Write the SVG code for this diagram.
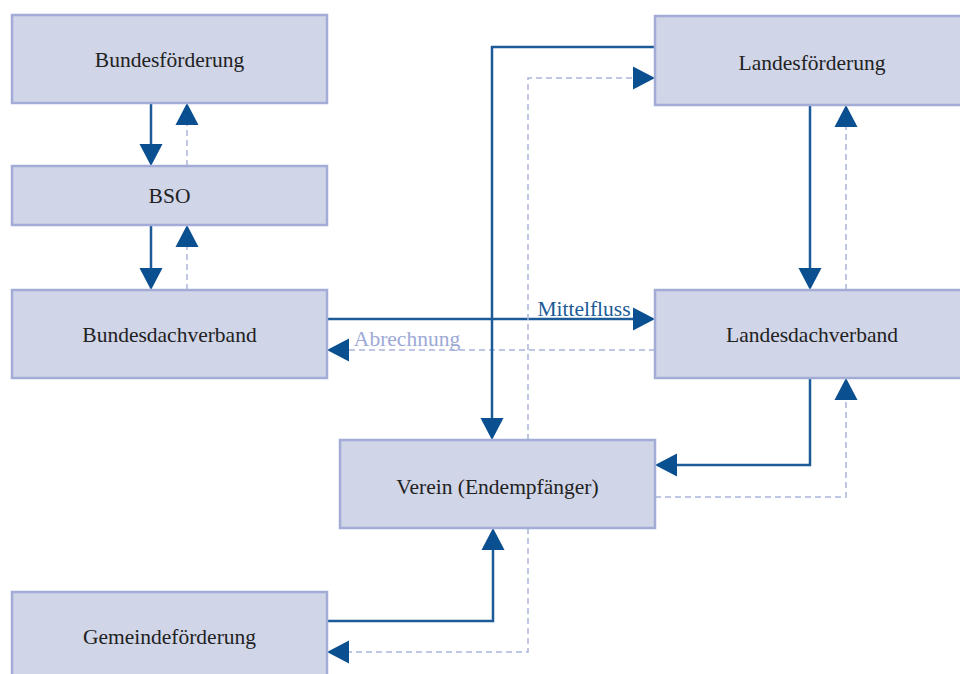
<svg xmlns="http://www.w3.org/2000/svg" width="960" height="674" viewBox="0 0 960 674">
<style>
.box{fill:#d0d5e8;stroke:#a3acd6;stroke-width:2.5}
.lbl{font-family:"Liberation Serif","Times New Roman",serif;font-size:21.5px;fill:#222;text-anchor:middle}
.solid{fill:none;stroke:#1c5b98;stroke-width:2.5}
.dash{fill:none;stroke:#aab5db;stroke-width:1.5;stroke-dasharray:6 4}
.ah{fill:#0a4f8f}
</style>
<rect width="960" height="674" fill="#fff"/>
<g id="connectors">
<!-- Bundesförderung <-> BSO -->
<path class="solid" d="M151 103V146"/>
<polygon class="ah" points="139.5,144 162.5,144 151,166"/>
<path class="dash" d="M187 166V124"/>
<polygon class="ah" points="175.5,125 198.5,125 187,103"/>
<!-- BSO <-> Bundesdachverband -->
<path class="solid" d="M151 225V270"/>
<polygon class="ah" points="139.5,268 162.5,268 151,290"/>
<path class="dash" d="M187 290V246"/>
<polygon class="ah" points="175.5,247 198.5,247 187,225"/>
<!-- Landesförderung <-> Landesdachverband -->
<path class="solid" d="M810 105V270"/>
<polygon class="ah" points="798.5,268 821.5,268 810,290"/>
<path class="dash" d="M846 290V126"/>
<polygon class="ah" points="834.5,127 857.5,127 846,105"/>
<!-- Mittelfluss / Abrechnung -->
<path class="solid" d="M327 319H636"/>
<polygon class="ah" points="633,307.5 633,330.5 655,319"/>
<text x="584" y="316" class="lbl" style="fill:#1c5b98">Mittelfluss</text>
<path class="dash" d="M655 350H346"/>
<polygon class="ah" points="349,338.5 349,361.5 327,350"/>
<text x="407" y="346" class="lbl" style="fill:#9ca9d6">Abrechnung</text>
<!-- Landesförderung <-> Verein -->
<path class="solid" d="M655 47H492V420"/>
<polygon class="ah" points="480.5,418 503.5,418 492,440"/>
<path class="dash" d="M528 440V78H636"/>
<polygon class="ah" points="633,66.5 633,89.5 655,78"/>
<!-- Landesdachverband <-> Verein -->
<path class="solid" d="M810 378V465H674"/>
<polygon class="ah" points="677,453.5 677,476.5 655,465"/>
<path class="dash" d="M655 497H846V399"/>
<polygon class="ah" points="834.5,400 857.5,400 846,378"/>
<!-- Gemeindeförderung <-> Verein -->
<path class="solid" d="M327 621H493V548"/>
<polygon class="ah" points="481.5,550 504.5,550 493,528"/>
<path class="dash" d="M528 528V652H346"/>
<polygon class="ah" points="349,640.5 349,663.5 327,652"/>
</g>
<g id="bundesfoerderung"><rect class="box" x="12" y="15" width="315" height="88"/><text class="lbl" x="169.5" y="67">Bundesförderung</text></g>
<g id="bso"><rect class="box" x="12" y="166" width="315" height="59"/><text class="lbl" x="169.5" y="203">BSO</text></g>
<g id="bundesdachverband"><rect class="box" x="12" y="290" width="315" height="88"/><text class="lbl" x="169.5" y="342">Bundesdachverband</text></g>
<g id="landesfoerderung"><rect class="box" x="655" y="16" width="310" height="89"/><text class="lbl" x="812" y="70">Landesförderung</text></g>
<g id="landesdachverband"><rect class="box" x="655" y="290" width="310" height="88"/><text class="lbl" x="812" y="342">Landesdachverband</text></g>
<g id="verein"><rect class="box" x="340" y="440" width="315" height="88"/><text class="lbl" x="497.5" y="494">Verein (Endempfänger)</text></g>
<g id="gemeindefoerderung"><rect class="box" x="12" y="592" width="315" height="90"/><text class="lbl" x="169.5" y="644">Gemeindeförderung</text></g>
</svg>
